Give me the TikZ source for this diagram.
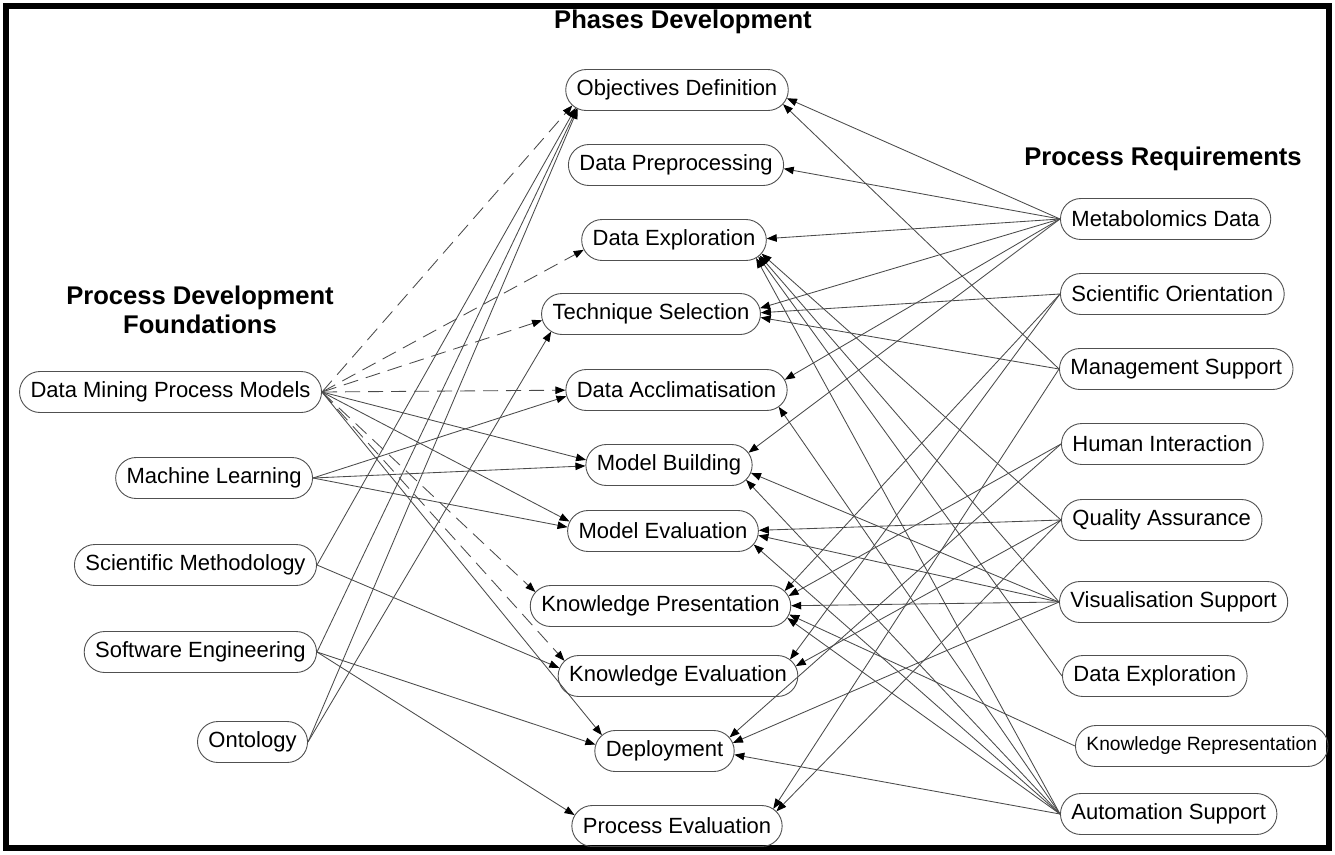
\documentclass[tikz,border=0pt]{standalone}
\usepackage{fontspec}
\setmainfont{Liberation Sans}
\usetikzlibrary{calc,arrows.meta}
\definecolor{boxgray}{HTML}{505050}
\definecolor{linegray}{HTML}{4A4A4A}

% connector from a source anchor to the rounded end of a phase box
\newcommand\lk[3][]{\draw[arr,#1] (#2) -- ($(#3)!20.5pt!(#2)$);}

\begin{document}
\begin{tikzpicture}[x=1pt,y=-1pt,
  box/.style={draw=boxgray, line width=0.9pt, rounded corners=20.5pt,
    minimum height=41pt, inner xsep=11pt, inner ysep=0pt,
    font=\fontsize{22}{26}\selectfont},
  head/.style={font=\bfseries\fontsize{25.6}{29}\selectfont, inner sep=0pt},
  arr/.style={draw=linegray, line width=0.85pt,
    -{Triangle[length=10pt,width=7.5pt,color=black]}},
  dsh/.style={dash pattern=on 15pt off 8pt}]

\useasboundingbox (0,0) rectangle (1335,854);
\draw[line width=6pt] (6,6) rectangle (1329,848);

% headings
\node[head, anchor=base] (hphase) at (683,28) {Phases Development};
\node[head, anchor=base] (hreq) at (1163,165) {Process Requirements};
\node[head, align=center, anchor=base] (hfound) at (200,333)
  {Process Development\\Foundations};

% foundations
\node[box, anchor=east] (DMPM) at (322,392) {Data Mining Process Models};
\node[box, anchor=east] (ML)   at (313,478) {Machine Learning};
\node[box, anchor=east] (SM)   at (317,565) {Scientific Methodology};
\node[box, anchor=east] (SE)   at (317,652) {Software Engineering};
\node[box, anchor=east] (Ont)  at (308,742) {Ontology};

% phases
\node[box] (OD)  at (677,90)    {Objectives Definition};
\node[box] (DP)  at (676,165)   {Data Preprocessing};
\node[box] (DE)  at (674,240)   {Data Exploration};
\node[box] (TS)  at (651,314)   {Technique Selection};
\node[box] (DA)  at (676.5,390) {Data Acclimatisation};
\node[box] (MB)  at (669,465)   {Model Building};
\node[box] (ME)  at (663,531)   {Model Evaluation};
\node[box] (KP)  at (660.5,606) {Knowledge Presentation};
\node[box] (KE)  at (678,676)   {Knowledge Evaluation};
\node[box] (Dep) at (664.5,751) {Deployment};
\node[box] (PE)  at (677,826)   {Process Evaluation};

% requirements
\node[box, anchor=west] (MD)  at (1060,219) {Metabolomics Data};
\node[box, anchor=west] (SO)  at (1060,294) {Scientific Orientation};
\node[box, anchor=west] (MS)  at (1059,369) {Management Support};
\node[box, anchor=west] (HI)  at (1061,444) {Human Interaction};
\node[box, anchor=west] (QA)  at (1061,520) {Quality Assurance};
\node[box, anchor=west] (VS)  at (1059,602) {Visualisation Support};
\node[box, anchor=west] (DEx) at (1062,676) {Data Exploration};
\node[box, anchor=west, font=\fontsize{19.2}{23}\selectfont] (KR) at (1075,746) {Knowledge Representation};
\node[box, anchor=west] (AS)  at (1060,814) {Automation Support};

% centres of the rounded ends of the phase boxes
\foreach \n in {OD,DP,DE,TS,DA,MB,ME,KP,KE,Dep,PE}{
  \coordinate (\n-l) at ([xshift=20.5pt]\n.west);
  \coordinate (\n-r) at ([xshift=-20.5pt]\n.east);
}

% foundations -> phases
\foreach \t in {OD,DE,TS,DA,KP,KE}{\lk[dsh]{DMPM.east}{\t-l}}
\foreach \t in {MB,ME,Dep}{\lk{DMPM.east}{\t-l}}
\foreach \t in {DA,MB,ME}{\lk{ML.east}{\t-l}}
\foreach \t in {OD,KE}{\lk{SM.east}{\t-l}}
\foreach \t in {OD,Dep,PE}{\lk{SE.east}{\t-l}}
\foreach \t in {OD,TS}{\lk{Ont.east}{\t-l}}

% requirements -> phases
\foreach \t in {OD,DP,DE,TS,DA,MB}{\lk{MD.west}{\t-r}}
\foreach \t in {TS,KP,KE}{\lk{SO.west}{\t-r}}
\foreach \t in {OD,TS,PE}{\lk{MS.west}{\t-r}}
\foreach \t in {KP,Dep}{\lk{HI.west}{\t-r}}
\foreach \t in {DE,ME,KE,PE}{\lk{QA.west}{\t-r}}
\foreach \t in {DE,MB,ME,KP,Dep}{\lk{VS.west}{\t-r}}
\foreach \t in {DE}{\lk{DEx.west}{\t-r}}
\foreach \t in {KP}{\lk{KR.west}{\t-r}}
\foreach \t in {DE,DA,MB,ME,KP,Dep}{\lk{AS.west}{\t-r}}
\end{tikzpicture}
\end{document}
